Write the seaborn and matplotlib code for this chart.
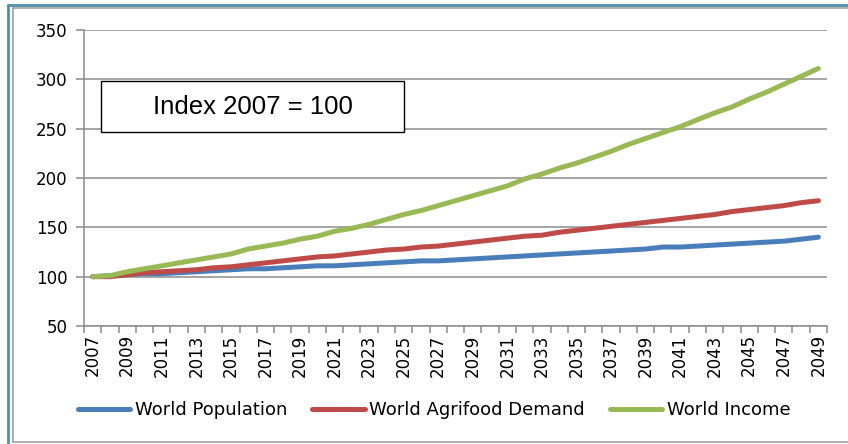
import numpy as np
import pandas as pd
import matplotlib
matplotlib.use("Agg")
import matplotlib.pyplot as plt
from matplotlib.lines import Line2D
from matplotlib.patches import Rectangle
import seaborn as sns

years = list(range(2007, 2050))
population = [100, 101, 102, 103, 103, 104, 105, 106, 107, 108,
              108, 109, 110, 111, 111, 112, 113, 114, 115, 116,
              116, 117, 118, 119, 120, 121, 122, 123, 124, 125,
              126, 127, 128, 130, 130, 131, 132, 133, 134, 135,
              136, 138, 140]
agrifood = [100, 100, 102, 104, 105, 106, 107, 109, 110, 112,
            114, 116, 118, 120, 121, 123, 125, 127, 128, 130,
            131, 133, 135, 137, 139, 141, 142, 145, 147, 149,
            151, 153, 155, 157, 159, 161, 163, 166, 168, 170,
            172, 175, 177]
income = [100, 101, 105, 108, 111, 114, 117, 120, 123, 128,
          131, 134, 138, 141, 146, 149, 153, 158, 163, 167,
          172, 177, 182, 187, 192, 199, 204, 210, 215, 221,
          227, 234, 240, 246, 252, 259, 266, 272, 280, 287,
          295, 303, 311]
series_names = ["World Population", "World Agrifood Demand", "World Income"]
colors = ["#4A7EBB", "#BE4B48", "#98B954"]
yticks = [50, 100, 150, 200, 250, 300, 350]
note = "Index 2007 = 100"

assert len(years) == len(population) == len(agrifood) == len(income)

df = pd.concat([
    pd.DataFrame({"idx": np.arange(len(years)), "value": vals, "series": name})
    for name, vals in zip(series_names, [population, agrifood, income])
])

sns.set_theme(style="white")
plt.rcParams["font.family"] = ["DejaVu Sans"]
plt.rcParams["text.color"] = "black"

fig = plt.figure(figsize=(8.48, 4.44), dpi=100)
ax = fig.add_axes([84 / 848, 1 - 326 / 444, 743 / 848, 296 / 444])

sns.lineplot(data=df, x="idx", y="value", hue="series", hue_order=series_names,
             palette=colors, linewidth=3.6, ax=ax, legend=False,
             solid_capstyle="round")

grid_c = "#8C8C8C"
ax.set_xlim(-0.5, len(years) - 0.5)
ax.set_ylim(yticks[0], yticks[-1])
ax.set_yticks(yticks)
ax.set_yticklabels([str(v) for v in yticks], fontsize=12, color="black")
ax.yaxis.grid(True, color=grid_c, linewidth=1.1)
ax.set_axisbelow(True)

ax.set_xticks(np.arange(0, len(years), 2))
ax.set_xticklabels([str(y) for y in years[::2]], rotation=90, fontsize=12,
                   color="black")
ax.set_xticks(np.arange(-0.5, len(years), 1), minor=True)
ax.tick_params(axis="x", which="major", length=0, pad=6)
ax.tick_params(axis="x", which="minor", length=5, color=grid_c, width=1.1,
               direction="out", bottom=True)
ax.tick_params(axis="y", which="major", length=6, color=grid_c, width=1.1,
               direction="out", left=True, pad=6)
ax.set_xlabel("")
ax.set_ylabel("")
for side in ["top", "right"]:
    ax.spines[side].set_visible(False)
for side in ["left", "bottom"]:
    ax.spines[side].set_color(grid_c)
    ax.spines[side].set_linewidth(1.1)

# Annotation box
x0 = (101 - 84) / 743
x1 = (404 - 84) / 743
y1 = (326 - 81) / 296
y0 = (326 - 132) / 296
ax.add_patch(Rectangle((x0, y0), x1 - x0, y1 - y0, transform=ax.transAxes,
                       facecolor="white", edgecolor="black", linewidth=1.0,
                       zorder=5))
ax.text((x0 + x1) / 2, (y0 + y1) / 2, note, transform=ax.transAxes,
        ha="center", va="center", fontsize=18.5, family="Liberation Sans",
        color="black", zorder=6)

# Legend
handles = [Line2D([0], [0], color=c, linewidth=3.6) for c in colors]
leg = fig.legend(handles, series_names, loc="center",
                 bbox_to_anchor=(0.512, 1 - 410 / 444),
                 ncol=3, frameon=False, fontsize=13, handlelength=2.9,
                 handletextpad=0.25, columnspacing=1.4)
for t in leg.get_texts():
    t.set_color("black")

# Chart-area frame
W, H = 848, 444
fig.add_artist(Line2D([8 / W, 8 / W], [0, 1 - 5 / H], color="#4E8FAA",
                      linewidth=2.0, transform=fig.transFigure))
fig.add_artist(Line2D([8 / W, 1], [1 - 5 / H, 1 - 5 / H], color="#4E8FAA",
                      linewidth=2.0, transform=fig.transFigure))
fig.add_artist(Line2D([12.5 / W, 12.5 / W], [1 - 441.5 / H, 1 - 8.5 / H],
                      color="#A0A0A0", linewidth=1.2, transform=fig.transFigure))
fig.add_artist(Line2D([12.5 / W, 1], [1 - 8.5 / H, 1 - 8.5 / H],
                      color="#A0A0A0", linewidth=1.2, transform=fig.transFigure))
fig.add_artist(Line2D([12.5 / W, 1], [1 - 441.5 / H, 1 - 441.5 / H],
                      color="#A0A0A0", linewidth=1.2, transform=fig.transFigure))

fig.savefig("out.png", dpi=100)
